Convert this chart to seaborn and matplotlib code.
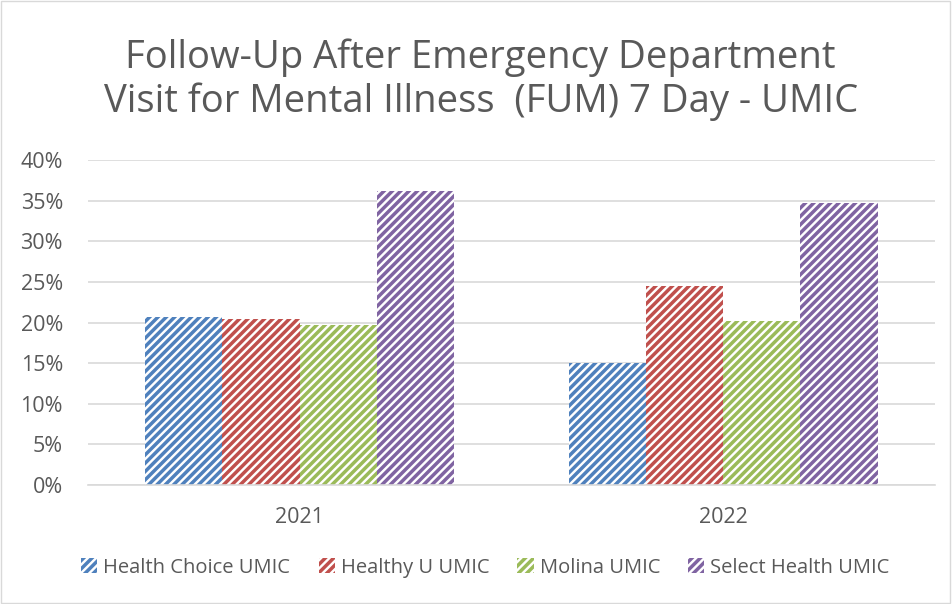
import matplotlib
matplotlib.use("Agg")
import matplotlib.pyplot as plt
import matplotlib.patches as mpatches
import pandas as pd
import seaborn as sns
from matplotlib.ticker import PercentFormatter

years = ["2021", "2022"]
plans = ["Health Choice UMIC", "Healthy U UMIC", "Molina UMIC", "Select Health UMIC"]
health_choice = [0.207, 0.150]
healthy_u = [0.204, 0.245]
molina = [0.197, 0.202]
select_health = [0.362, 0.347]
colors = ["#4F81BD", "#C0504D", "#9BBB59", "#8064A2"]

rows = []
for plan, vals in zip(plans, [health_choice, healthy_u, molina, select_health]):
    for yr, v in zip(years, vals):
        rows.append({"year": yr, "plan": plan, "rate": v})
df = pd.DataFrame(rows)

sns.set_theme(style="white")
plt.rcParams["font.family"] = ["Open Sans", "DejaVu Sans"]
plt.rcParams["hatch.linewidth"] = 2.5
text_gray = "#595959"

fig = plt.figure(figsize=(9.52, 6.04), dpi=100)
ax = fig.add_axes([0.0924, 0.197, 0.8896, 0.538])

sns.barplot(data=df, x="year", y="rate", hue="plan", hue_order=plans,
            palette=colors, width=0.73, ax=ax, legend=False)

for cont, col in zip(ax.containers, colors):
    for bar in cont:
        bar.set_facecolor("white")
        bar.set_edgecolor(col)
        bar.set_linewidth(0)
        bar.set_hatch("////")

ax.set_ylim(0, 0.40)
ax.set_xlim(-0.5, 1.5)
ax.set_yticks([i * 0.05 for i in range(9)])
ax.yaxis.set_major_formatter(PercentFormatter(1.0, decimals=0))
ax.grid(axis="y", color="#D9D9D9", linewidth=1.2)
ax.set_axisbelow(True)
for s in ["top", "right", "left"]:
    ax.spines[s].set_visible(False)
ax.spines["bottom"].set_color("#D9D9D9")
ax.spines["bottom"].set_linewidth(1.2)
ax.tick_params(axis="both", colors=text_gray, labelsize=15.5, length=0)
ax.tick_params(axis="y", pad=18)
ax.tick_params(axis="x", pad=16)
ax.set_xlabel("")
ax.set_ylabel("")

fig.text(0.505, 0.868, "Follow-Up After Emergency Department\nVisit for Mental Illness  (FUM) 7 Day - UMIC",
         ha="center", va="center", fontsize=27.5, color=text_gray, linespacing=1.2)

handles = [mpatches.Patch(facecolor="white", edgecolor=c, linewidth=0, hatch="////") for c in colors]
fig.legend(handles, plans, loc="center", bbox_to_anchor=(0.51, 0.06), ncol=4, frameon=False,
           fontsize=14.5, labelcolor=text_gray, handlelength=0.8, handleheight=0.8,
           handletextpad=0.3, columnspacing=1.4)

fig.patches.append(mpatches.Rectangle((0.001, 0.001), 0.997, 0.997, transform=fig.transFigure,
                                      fill=False, edgecolor="#D9D9D9", linewidth=1))

fig.savefig("out.png", dpi=100)
